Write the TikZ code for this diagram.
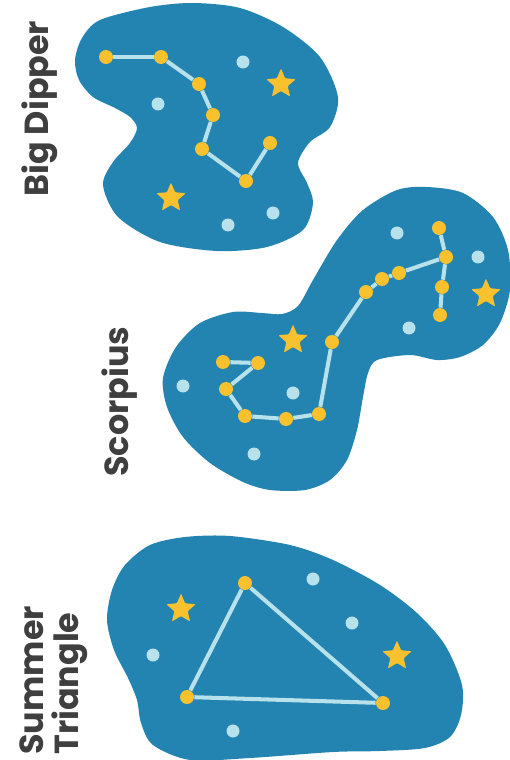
\documentclass[tikz,border=0pt]{standalone}
\usepackage{fontspec}
\setmainfont{Poppins}
\usepackage{tikz}
\usepackage{xcolor}
\usetikzlibrary{shapes.geometric}
\definecolor{sky}{HTML}{2383B1}
\definecolor{gold}{HTML}{F8C12D}
\definecolor{ice}{HTML}{B7E1EB}
\definecolor{ink}{HTML}{3F3F3F}

\begin{document}
\begin{tikzpicture}[
  x=0.02cm, y=-0.02cm,
  blob/.style={fill=sky},
  sun/.style={circle, fill=gold, inner sep=0pt, minimum size=0.28cm},
  dot/.style={circle, fill=ice, inner sep=0pt, minimum size=0.26cm},
  twinkle/.style={star, star points=5, star point ratio=2.2, fill=gold, inner sep=0pt, minimum size=0.62cm, rounded corners=0.6pt},
  link/.style={draw=ice, line width=2.3pt},
  title/.style={rotate=90, text=ink, font=\bfseries\fontsize{19}{20}\selectfont, inner sep=0pt, align=left}
]
\useasboundingbox (0,0) rectangle (510,760);

% sky patches
\fill[blob] plot[smooth cycle] coordinates {(100,20) (150,7) (193,3) (240,8) (283,27) (320,57) (338,97) (330,127) (310,142) (298,163) (307,183) (313,203) (303,230) (267,247) (217,251) (160,242) (118,217) (103,185) (113,162) (130,143) (137,128) (130,117) (115,108) (93,97) (79,80) (75,60) (82,38)};
\fill[blob] plot[smooth cycle] coordinates {(410,355) (377,360) (368,373) (363,397) (357,430) (347,460) (330,480) (305,490) (270,490) (243,482) (210,463) (183,437) (167,407) (163,378) (176,347) (200,323) (233,312) (262,313) (282,314) (298,306) (313,280) (337,240) (363,210) (397,190) (427,187) (463,193) (493,217) (508,250) (510,290) (500,323) (483,345) (460,357) (437,360)};
\fill[blob] plot[smooth cycle] coordinates {(230,536) (290,545) (333,560) (380,585) (417,613) (445,645) (462,685) (461,715) (450,737) (425,748) (380,751) (333,752) (250,758) (190,760) (153,745) (141,723) (137,700) (128,678) (114,650) (107,620) (112,590) (125,565) (150,545) (185,537)};

% Big Dipper
\node[sun] (bd1) at (106,57) {};
\node[sun] (bd2) at (161,57) {};
\node[sun] (bd3) at (199,84) {};
\node[sun] (bd4) at (213,115) {};
\node[sun] (bd5) at (202,149) {};
\node[sun] (bd6) at (246,181) {};
\node[sun] (bd7) at (270,143) {};
\foreach \a/\b in {bd1/bd2, bd2/bd3, bd3/bd4, bd4/bd5, bd5/bd6, bd6/bd7}
  \draw[link] (\a) -- (\b);
\node[dot] (bdd1) at (243,62) {};
\node[dot] (bdd2) at (158,104) {};
\node[dot] (bdd3) at (228,225) {};
\node[dot] (bdd4) at (273,213) {};
\node[twinkle] (bds1) at (281,84) {};
\node[twinkle] (bds2) at (171,198) {};
\node[title, anchor=base west] (bdname) at (48,197) {Big Dipper};

% Scorpius
\node[sun] (sc1) at (439,228) {};
\node[sun] (sc2) at (446,257) {};
\node[sun] (sc3) at (442,287) {};
\node[sun] (sc4) at (440,315) {};
\node[sun] (sc5) at (399,273) {};
\node[sun] (sc6) at (382,279) {};
\node[sun] (sc7) at (366,292) {};
\node[sun] (sc8) at (332,342) {};
\node[sun] (sc9) at (319,414) {};
\node[sun] (sc10) at (286,419) {};
\node[sun] (sc11) at (245,416) {};
\node[sun] (sc12) at (226,389) {};
\node[sun] (sc13) at (258,363) {};
\node[sun] (sc14) at (223,362) {};
\foreach \a/\b in {sc1/sc2, sc2/sc3, sc3/sc4, sc2/sc5, sc5/sc6, sc6/sc7, sc7/sc8, sc8/sc9, sc9/sc10, sc10/sc11, sc11/sc12, sc12/sc13, sc13/sc14}
  \draw[link] (\a) -- (\b);
\node[dot] (scd1) at (397,233) {};
\node[dot] (scd2) at (478,257) {};
\node[dot] (scd3) at (409,328) {};
\node[dot] (scd4) at (183,386) {};
\node[dot] (scd5) at (293,393) {};
\node[dot] (scd6) at (254,454) {};
\node[twinkle] (scs1) at (486,294) {};
\node[twinkle] (scs2) at (293,340) {};
\node[title, anchor=base west] (scname) at (128,477) {Scorpius};

% Summer Triangle
\node[sun] (st1) at (245,583) {};
\node[sun] (st2) at (187,697) {};
\node[sun] (st3) at (383,703) {};
\draw[link] (st1) -- (st2);
\draw[link] (st2) -- (st3);
\draw[link] (st3) -- (st1);
\node[dot] (std1) at (313,579) {};
\node[dot] (std2) at (352,623) {};
\node[dot] (std3) at (153,655) {};
\node[dot] (std4) at (233,731) {};
\node[twinkle] (sts1) at (181,609) {};
\node[twinkle] (sts2) at (397,656) {};
\node[title, anchor=south west] (stname) at (88,755) {Summer\\Triangle};
\end{tikzpicture}
\end{document}
